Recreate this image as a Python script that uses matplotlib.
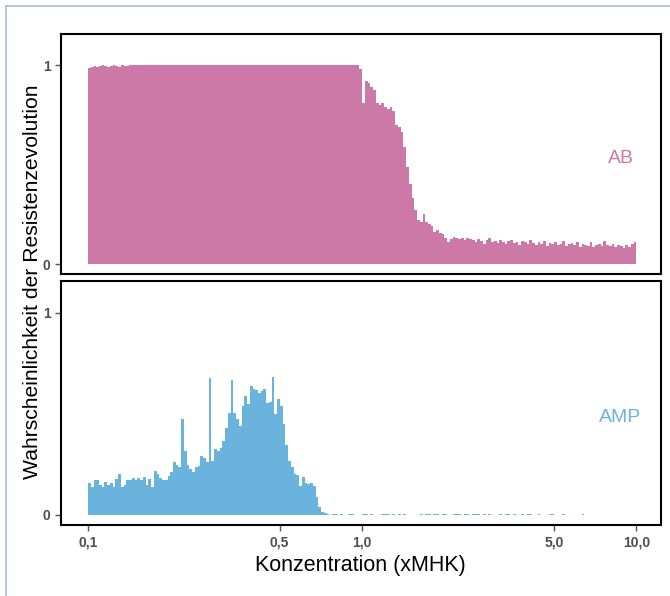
import numpy as np
import matplotlib
matplotlib.use("Agg")
import matplotlib.pyplot as plt
from matplotlib.lines import Line2D

plt.rcParams['font.family'] = ['Liberation Sans', 'DejaVu Sans']

# ---- data ----
n_bins = 200
conc_min, conc_max = 0.1, 10.0
xtick_vals = [0.1, 0.5, 1.0, 5.0, 10.0]
xtick_labels = ["0,1", "0,5", "1,0", "5,0", "10,0"]
ytick_vals = [0, 1]
ytick_labels = ["0", "1"]

ab_head = [0.985, 0.99, 0.995, 0.99, 0.995, 1.0, 0.995, 0.99, 0.995, 1.0,
           0.995, 0.99, 1.0, 0.995, 0.995, 1.0]
ab_plateau = [1.0, 1.0, 1.0, 1.0, 1.0, 1.0, 1.0, 1.0, 1.0, 1.0,
              1.0, 1.0, 1.0, 1.0, 1.0, 1.0, 1.0, 1.0, 1.0, 1.0,
              1.0, 1.0, 1.0, 1.0, 1.0, 1.0, 1.0, 1.0, 1.0, 1.0,
              1.0, 1.0, 1.0, 1.0, 1.0, 1.0, 1.0, 1.0, 1.0, 1.0,
              1.0, 1.0, 1.0, 1.0, 1.0, 1.0, 1.0, 1.0, 1.0, 1.0,
              1.0, 1.0, 1.0, 1.0, 1.0, 1.0, 1.0, 1.0, 1.0, 1.0,
              1.0, 1.0, 1.0, 1.0, 1.0, 1.0, 1.0, 1.0, 1.0, 1.0,
              1.0, 1.0, 1.0, 1.0, 1.0, 1.0, 1.0, 1.0, 1.0, 1.0,
              1.0, 1.0, 1.0]
ab_drop = [0.98, 0.81, 0.92, 0.91, 0.89, 0.875, 0.81, 0.80, 0.81, 0.79,
           0.78, 0.79, 0.77, 0.70, 0.69, 0.665, 0.59, 0.49, 0.40, 0.33,
           0.27, 0.22, 0.21, 0.25, 0.21, 0.20, 0.19, 0.16, 0.17, 0.155,
           0.15, 0.13, 0.11, 0.125, 0.135, 0.13, 0.125, 0.13, 0.12, 0.13,
           0.125]
ab_tail = [0.12, 0.11, 0.125, 0.115, 0.10, 0.12, 0.13, 0.11, 0.115, 0.105,
           0.12, 0.11, 0.10, 0.115, 0.12, 0.105, 0.11, 0.095, 0.115, 0.11,
           0.10, 0.12, 0.105, 0.095, 0.11, 0.10, 0.115, 0.09, 0.105, 0.10,
           0.11, 0.095, 0.10, 0.115, 0.09, 0.10, 0.105, 0.095, 0.11, 0.085,
           0.10, 0.095, 0.09, 0.11, 0.085, 0.095, 0.10, 0.09, 0.115, 0.095,
           0.09, 0.10, 0.085, 0.095, 0.09, 0.08, 0.095, 0.085, 0.10, 0.11]
ab_values = ab_head + ab_plateau + ab_drop + ab_tail

amp_main = [0.16, 0.136, 0.17, 0.17, 0.148, 0.136, 0.164, 0.148, 0.158, 0.136,
            0.177, 0.20, 0.14, 0.148, 0.174, 0.174, 0.18, 0.17, 0.18, 0.17,
            0.186, 0.148, 0.177, 0.136, 0.218, 0.20, 0.18, 0.17, 0.174, 0.194,
            0.21, 0.26, 0.246, 0.235, 0.473, 0.317, 0.246, 0.227, 0.21, 0.235,
            0.24, 0.29, 0.28, 0.26, 0.678, 0.265, 0.325, 0.317, 0.33, 0.366,
            0.43, 0.506, 0.667, 0.506, 0.473, 0.44, 0.538, 0.588, 0.546, 0.637,
            0.62, 0.617, 0.604, 0.61, 0.62, 0.555, 0.56, 0.683, 0.497, 0.571,
            0.538, 0.448, 0.345, 0.265, 0.235, 0.20, 0.198, 0.144, 0.186, 0.16,
            0.152, 0.158, 0.144, 0.087, 0.038, 0.013, 0.008]
amp_tail = [0.006, 0.0, 0.005, 0.006, 0.0, 0.005, 0.0, 0.0, 0.006, 0.005,
            0.0, 0.0, 0.0, 0.005, 0.006, 0.0, 0.005, 0.0, 0.0, 0.0,
            0.006, 0.005, 0.006, 0.0, 0.005, 0.0, 0.006, 0.0, 0.005, 0.0,
            0.0, 0.0, 0.0, 0.0, 0.005, 0.0, 0.006, 0.005, 0.0, 0.005,
            0.006, 0.0, 0.005, 0.006, 0.0, 0.0, 0.005, 0.006, 0.005, 0.0,
            0.006, 0.005, 0.0, 0.005, 0.006, 0.005, 0.0, 0.006, 0.0, 0.005,
            0.0, 0.0, 0.0, 0.005, 0.0, 0.006, 0.005, 0.0, 0.006, 0.0,
            0.0, 0.005, 0.0, 0.006, 0.005, 0.0, 0.0, 0.005, 0.0, 0.0,
            0.0, 0.006, 0.005, 0.0, 0.0, 0.0, 0.005, 0.0, 0.0, 0.0,
            0.0, 0.0, 0.0, 0.005, 0.0, 0.0, 0.0, 0.0, 0.0, 0.0,
            0.0, 0.0, 0.0, 0.0, 0.0, 0.0, 0.0, 0.0, 0.0, 0.0,
            0.0, 0.0, 0.0]
amp_values = amp_main + amp_tail

panel_labels = ["AB", "AMP"]
panel_colors = ["#CC79A7", "#69B3DD"]
xlabel = "Konzentration (xMHK)"
ylabel = "Wahrscheinlichkeit der Resistenzevolution"

# ---- plot ----
edges = np.logspace(np.log10(conc_min), np.log10(conc_max), n_bins + 1)
widths = np.diff(edges)

fig = plt.figure(figsize=(6.70, 5.96), dpi=100)
W, H = 670, 596

def fr(l, t, r, b):
    return [l / W, 1 - b / H, (r - l) / W, (b - t) / H]

ax1 = fig.add_axes(fr(61, 34, 661, 274))
ax2 = fig.add_axes(fr(61, 281, 661, 525))

label_pos = [(0.933, 0.483), (0.932, 0.439)]
for ax, vals, lab, col, pos in zip([ax1, ax2], [ab_values, amp_values], panel_labels,
                                   panel_colors, label_pos):
    ax.bar(edges[:-1], vals, width=widths, align='edge', color=col, linewidth=0)
    ax.set_xscale('log')
    ax.set_xlim(0.0797, 12.3)
    ax.set_ylim(-0.05, 1.156)
    ax.set_yticks(ytick_vals)
    ax.set_yticklabels(ytick_labels)
    ax.minorticks_off()
    for s in ax.spines.values():
        s.set_linewidth(1.5)
        s.set_color('black')
    ax.tick_params(axis='both', direction='out', length=4, width=1.0, color='#555555',
                   labelcolor='#4d4d4d', labelsize=10)
    for t in ax.get_yticklabels():
        t.set_fontweight('bold')
    ax.text(pos[0], pos[1], lab, transform=ax.transAxes,
            color=col, fontsize=14, ha='center', va='center')

ax1.set_xticks([])
ax2.set_xticks(xtick_vals)
ax2.set_xticklabels(xtick_labels)
for t in ax2.get_xticklabels():
    t.set_fontweight('bold')
ax2.minorticks_off()

fig.text(360 / W, 1 - 565 / H, xlabel, ha='center', va='center', fontsize=15.5)
fig.text(33 / W, 1 - 282 / H, ylabel, ha='center', va='center', rotation=90, fontsize=15.2)

# outer light-blue frame (left and top edges)
fig.add_artist(Line2D([6 / W, 6 / W], [0, 1 - 6 / H], transform=fig.transFigure,
                      color='#9DBFDF', linewidth=1.2))
fig.add_artist(Line2D([6 / W, 1], [1 - 6 / H, 1 - 6 / H], transform=fig.transFigure,
                      color='#9DBFDF', linewidth=1.2))

fig.savefig("out.png", dpi=100)
